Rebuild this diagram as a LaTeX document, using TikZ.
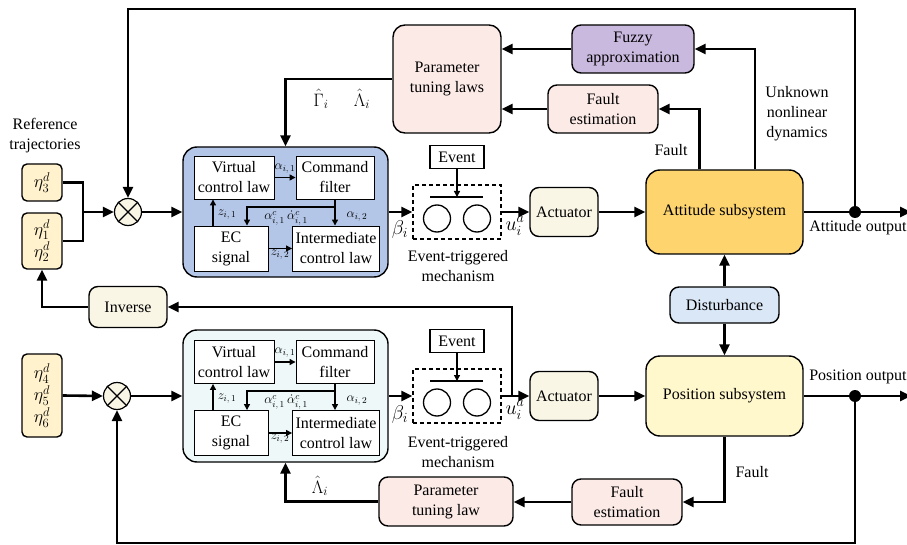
\RequirePackage{fix-cm}
\documentclass[tikz,border=0pt]{standalone}
\usepackage{amsmath}
\usepackage{fontspec}
\setmainfont{Liberation Serif}
\usetikzlibrary{arrows.meta}
\definecolor{ctrlblue}{HTML}{B4C6E8}
\definecolor{ctrlgreen}{HTML}{EEF8F8}
\definecolor{attfill}{HTML}{FED46E}
\definecolor{posfill}{HTML}{FFF8CC}
\definecolor{fuzzyfill}{HTML}{CAB9DF}
\definecolor{pinkfill}{HTML}{FCEAE6}
\definecolor{distfill}{HTML}{DAE7F6}
\definecolor{creamfill}{HTML}{F9F6E6}
\definecolor{reffill}{HTML}{FFF2CC}

\begin{document}
\begin{tikzpicture}[x=1pt,y=-1pt]
	\tikzstyle{every node}+=[inner sep=0pt, align=center, font=\fontsize{16}{20}\selectfont]
	\tikzstyle{blk}=[draw, line width=1.4pt, rounded corners=9pt]
	\tikzstyle{sub}=[draw, line width=0.9pt, fill=white]
	\tikzstyle{sumnode}=[draw, circle, line width=1.2pt, fill=creamfill, minimum size=27pt]
	\tikzstyle{dotnode}=[fill, circle, minimum size=12pt]
	\tikzstyle{swnode}=[draw, circle, line width=1.3pt, minimum size=27pt]
	\tikzstyle{etmbox}=[draw, line width=1.5pt, dash pattern=on 4pt off 3pt, minimum width=88pt, minimum height=54pt]
	\tikzstyle{evbox}=[draw, line width=1.2pt, minimum width=54pt, minimum height=23pt]
	\tikzstyle{wire}=[line width=2.6pt]
	\tikzstyle{flow}=[wire, -{Triangle[length=11pt,width=10pt]}]
	\tikzstyle{fine}=[line width=1.3pt, -{Triangle[length=6pt,width=6pt]}]
	\tikzstyle{lbl}=[font=\fontsize{13}{15}\selectfont]
	\tikzstyle{sig}=[font=\fontsize{20}{24}\selectfont]
	\tikzstyle{etatxt}=[font=\fontsize{18}{22}\selectfont]
	\useasboundingbox (0,0) rectangle (907,545);

	\node (reftxt) at (45,136) {Reference\\trajectories};
	\node [blk, etatxt, fill=reffill, rounded corners=5pt, minimum width=40pt, minimum height=37pt] (eta3) at (42,182.5) {$\eta_3^d$};
	\node [blk, etatxt, fill=reffill, rounded corners=5pt, minimum width=40pt, minimum height=56pt] (eta12) at (42,241) {$\eta_1^d$\\$\eta_2^d$};
	\node [blk, etatxt, fill=reffill, rounded corners=5pt, minimum width=40pt, minimum height=83pt] (eta456) at (42,395.5) {$\eta_4^d$\\$\eta_5^d$\\$\eta_6^d$};
	\node [sumnode] (sumA) at (128,212) {};
	\node [sumnode] (sumB) at (117,396) {};
	\draw [line width=1.2pt] (sumA.north west) -- (sumA.south east) (sumA.north east) -- (sumA.south west);
	\draw [line width=1.2pt] (sumB.north west) -- (sumB.south east) (sumB.north east) -- (sumB.south west);
	\coordinate (jA) at (83,212);
	\draw [wire] (eta3.east) -| (jA) |- (eta12.east);
	\draw [flow] (jA) -- (sumA.west);
	\draw [flow] (eta456.east) -- (sumB.west);

	\node [blk, fill=ctrlblue, rounded corners=14pt, minimum width=205pt, minimum height=130pt] (ctrlA) at (285.5,212) {};
	\node [sub, minimum width=80pt, minimum height=43pt] (vclA) at (234,177.5) {Virtual\\control law};
	\node [sub, minimum width=78pt, minimum height=43pt] (cfA) at (335,177.5) {Command\\filter};
	\node [sub, minimum width=74pt, minimum height=45pt] (ecA) at (231,248.5) {EC\\signal};
	\node [sub, minimum width=87pt, minimum height=45pt] (icA) at (336,248.5) {Intermediate\\control law};
	\coordinate (spA) at (335,207);
	\draw [fine] (vclA.east) -- (cfA.west);
	\draw [fine] (cfA.south) -- (cfA.south |- icA.north);
	\draw [fine] (spA) -| ([shift={(16,0)}]ecA.north);
	\draw [fine] ([shift={(-18,0)}]ecA.north) -- ([shift={(-18,0)}]ecA.north |- vclA.south);
	\draw [fine] (ecA.east) -- (icA.west);
	\node [lbl] (a1A) at (285,169) {$\alpha_{i,\,1}$};
	\node [lbl] (z1A) at (227,215) {$z_{i,\,1}$};
	\node [lbl] (acA) at (286,218) {$\alpha_{i,\,1}^c\,\dot{\alpha}_{i,\,1}^c$};
	\node [lbl] (a2A) at (357,217) {$\alpha_{i,\,2}$};
	\node [lbl] (z2A) at (280,255) {$z_{i,\,2}$};

	\node [blk, fill=ctrlgreen, rounded corners=14pt, minimum width=205pt, minimum height=132pt] (ctrlB) at (285.5,396) {};
	\node [sub, minimum width=80pt, minimum height=43pt] (vclB) at (234,362) {Virtual\\control law};
	\node [sub, minimum width=78pt, minimum height=43pt] (cfB) at (335,362) {Command\\filter};
	\node [sub, minimum width=74pt, minimum height=45pt] (ecB) at (231,433) {EC\\signal};
	\node [sub, minimum width=87pt, minimum height=45pt] (icB) at (336,433) {Intermediate\\control law};
	\coordinate (spB) at (335,391);
	\draw [fine] (vclB.east) -- (cfB.west);
	\draw [fine] (cfB.south) -- (cfB.south |- icB.north);
	\draw [fine] (spB) -| ([shift={(16,0)}]ecB.north);
	\draw [fine] ([shift={(-18,0)}]ecB.north) -- ([shift={(-18,0)}]ecB.north |- vclB.south);
	\draw [fine] (ecB.east) -- (icB.west);
	\node [lbl] (a1B) at (285,353) {$\alpha_{i,\,1}$};
	\node [lbl] (z1B) at (227,399) {$z_{i,\,1}$};
	\node [lbl] (acB) at (286,402) {$\alpha_{i,\,1}^c\,\dot{\alpha}_{i,\,1}^c$};
	\node [lbl] (a2B) at (357,401) {$\alpha_{i,\,2}$};
	\node [lbl] (z2B) at (280,439) {$z_{i,\,2}$};
	\draw [flow] (sumA.east) -- (ctrlA.west);
	\draw [flow] (sumB.east) -- (ctrlB.west);

	\node [evbox] (evA) at (457,157) {Event};
	\node [etmbox] (etmA) at (457,212) {};
	\coordinate (barA) at (457,197);
	\draw [line width=1.3pt] ([shift={(-27,0)}]barA) -- ([shift={(26,0)}]barA);
	\draw [fine] (evA.south) -- (barA);
	\node [swnode] (swA1) at (437,218.5) {};
	\node [swnode] (swA2) at (477,218.5) {};
	\node (etmtxtA) at (458,266) {Event-triggered\\mechanism};
	\node [evbox] (evB) at (457,341) {Event};
	\node [etmbox] (etmB) at (457,396) {};
	\coordinate (barB) at (457,381);
	\draw [line width=1.3pt] ([shift={(-27,0)}]barB) -- ([shift={(26,0)}]barB);
	\draw [fine] (evB.south) -- (barB);
	\node [swnode] (swB1) at (437,402.5) {};
	\node [swnode] (swB2) at (477,402.5) {};
	\node (etmtxtB) at (458,452) {Event-triggered\\mechanism};
	\draw [flow] (ctrlA.east) -- (etmA.west);
	\draw [flow] (ctrlB.east) -- (etmB.west);
	\node [sig] (betaA) at (400,230) {$\beta_i$};
	\node [sig] (betaB) at (400,414) {$\beta_i$};
	\node [sig] (uA) at (515,226) {$u_i^a$};
	\node [sig] (uB) at (515,410) {$u_i^a$};

	\node [blk, fill=creamfill, minimum width=68pt, minimum height=49pt] (actA) at (564,212) {Actuator};
	\node [blk, fill=creamfill, minimum width=68pt, minimum height=49pt] (actB) at (564,396) {Actuator};
	\draw [flow] (etmA.east) -- (actA.west);
	\draw [flow] (etmB.east) -- (actB.west);
	\node [blk, fill=attfill, rounded corners=14pt, minimum width=157pt, minimum height=84pt] (att) at (724.5,212) {Attitude subsystem};
	\node [blk, fill=posfill, rounded corners=14pt, minimum width=157pt, minimum height=80pt] (pos) at (724.5,396) {Position subsystem};
	\draw [flow] (actA.east) -- (att.west);
	\draw [flow] (actB.east) -- (pos.west);
	\node [blk, fill=distfill, minimum width=109pt, minimum height=36pt] (dist) at (724.5,305) {Disturbance};
	\draw [flow] (dist.north) -- (att.south);
	\draw [flow] (dist.south) -- (pos.north);

	\node [dotnode] (dA) at (855,212) {};
	\node [dotnode] (dB) at (855,396) {};
	\coordinate (outA) at (911,212);
	\coordinate (outB) at (911,396);
	\draw [wire] (att.east) -- (dA);
	\draw [flow] (dA) -- (outA);
	\draw [wire] (pos.east) -- (dB);
	\draw [flow] (dB) -- (outB);
	\node (attout) at (858,228) {Attitude output};
	\node (posout) at (858,377) {Position output};
	\draw [flow] (dA.center) -- ++(0,-203) -| (sumA.north);
	\draw [flow] (dB.center) -- ++(0,147) -| (sumB.south);

	\node [blk, fill=pinkfill, rounded corners=12pt, minimum width=108pt, minimum height=108pt] (ptA) at (447,79) {Parameter\\tuning laws};
	\node [blk, fill=fuzzyfill, minimum width=122pt, minimum height=48pt] (fz) at (633,49) {Fuzzy\\approximation};
	\node [blk, fill=pinkfill, minimum width=110pt, minimum height=48pt] (feA) at (603,109) {Fault\\estimation};
	\draw [flow] ([shift={(-25,0)}]att.north) |- (feA.east);
	\draw [flow] ([shift={(30.5,0)}]att.north) |- (fz.east);
	\draw [flow] (fz.west) -- (fz.west -| ptA.east);
	\draw [flow] (feA.west) -- (feA.west -| ptA.east);
	\draw [flow] (ptA.west) -| (ctrlA.north);
	\node (faultA) at (671,150) {Fault};
	\node (unk) at (797,114) {Unknown\\nonlinear\\dynamics};
	\node [etatxt] (gamA) at (321,99) {$\hat{\Gamma}_i$};
	\node [etatxt] (lamA) at (362,99) {$\hat{\Lambda}_i$};

	\node [blk, fill=pinkfill, minimum width=134pt, minimum height=49pt] (ptB) at (446,501.5) {Parameter\\tuning law};
	\node [blk, fill=pinkfill, minimum width=110pt, minimum height=46pt] (feB) at (627,502) {Fault\\estimation};
	\draw [flow] (pos.south) |- (feB.east);
	\draw [flow] (feB.west) -- (feB.west -| ptB.east);
	\draw [flow] (ptB.west) -| (ctrlB.south);
	\node (faultB) at (752,472) {Fault};
	\node [etatxt] (lamB) at (320,486) {$\hat{\Lambda}_i$};

	\node [blk, fill=creamfill, minimum width=78pt, minimum height=41pt] (inv) at (128,307) {Inverse};
	\coordinate (tapB) at (512,396);
	\draw [flow] (tapB) |- (inv.east);
	\draw [flow] (inv.west) -| (eta12.south);
\end{tikzpicture}
\end{document}
